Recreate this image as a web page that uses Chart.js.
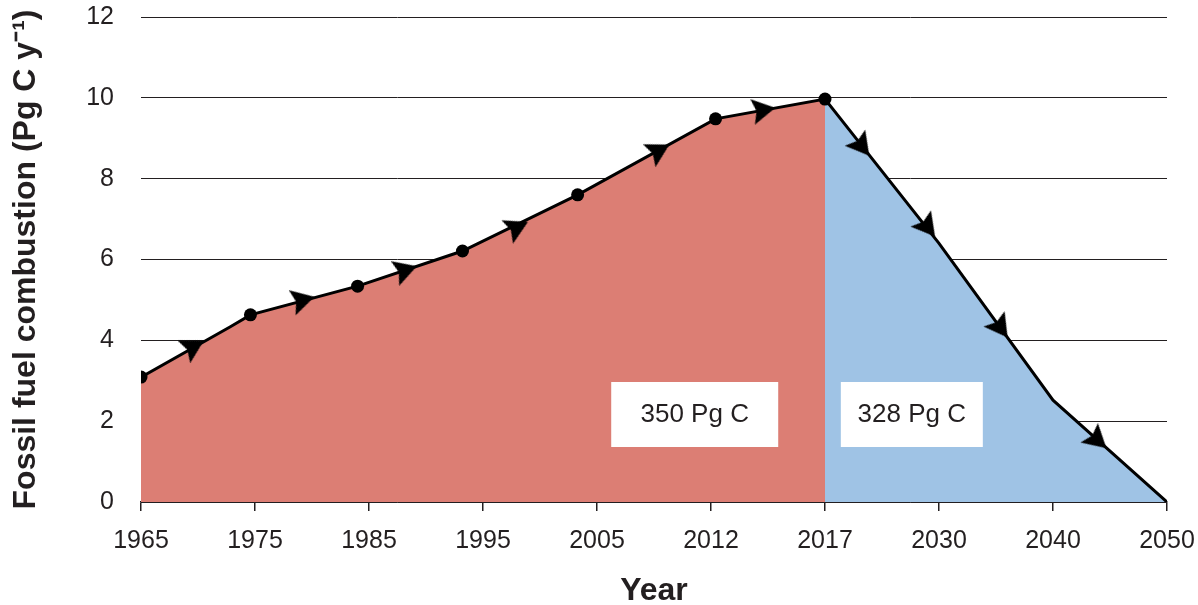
<!DOCTYPE html>
<html>
<head>
<meta charset="utf-8">
<script src="https://cdn.jsdelivr.net/npm/chart.js@4/dist/chart.umd.min.js"></script>
<style>
  body { margin: 0; background: #fff; }
  #wrap { width: 1198px; height: 605px; }
</style>
</head>
<body>
<div id="wrap"><canvas id="fuelChart"></canvas></div>
<script>
// tick labels on the x axis (equally spaced, not linear in time)
const tickYears = [1965, 1975, 1985, 1995, 2005, 2012, 2017, 2030, 2040, 2050];

// the emission path (Pg C per year)
const lineYears  = [1965, 1972.8, 1974.6, 1984, 1993.2, 2003.3, 2012.2, 2017, 2030, 2040, 2050];
const lineValues = [3.09, 4.33,   4.63,   5.34, 6.21,   7.60,   9.48,   9.97, 6.4,  2.52, 0];

// observed points that carry a dot
const dotYears = [1965, 1974.6, 1984, 1993.2, 2003.3, 2012.2, 2017];

// direction arrows along the path
const arrowYears  = [1969.6, 1979.2, 1988.2, 1998, 2008.8, 2014.3, 2021.2, 2028.7, 2035.4, 2043.9];
const arrowValues = [3.85,   5.0,    5.74,   6.8,  8.7,    9.7,    8.8,    6.8,    4.31,   1.53];

const splitYear = 2017;
const boxTexts  = ["350 Pg C", "328 Pg C"];
const boxYears  = [2011, 2026.9];
const boxValues = [2.165, 2.165];

const textColor = "#231f20";
const family = "'Liberation Sans', Arial, sans-serif";

// year -> position on the evenly spaced axis
function pos(year) {
  for (let i = 0; i < tickYears.length - 1; i++) {
    const a = tickYears[i], b = tickYears[i + 1];
    if (year <= b) return i + (year - a) / (b - a);
  }
  return tickYears.length - 1;
}

const pathPoints = lineYears.map((yr, i) => ({ x: pos(yr), y: lineValues[i] }));
const pastPoints = lineYears.map((yr, i) => ({ yr, p: pathPoints[i] })).filter(d => d.yr <= splitYear).map(d => d.p);
const futurePoints = lineYears.map((yr, i) => ({ yr, p: pathPoints[i] })).filter(d => d.yr >= splitYear).map(d => d.p);
const arrowPoints = arrowYears.map((yr, i) => ({ x: pos(yr), y: arrowValues[i] }));

// dart shaped arrow head, pointing right
const dart = document.createElement("canvas");
dart.width = 30; dart.height = 30;
(function () {
  const c = dart.getContext("2d");
  c.fillStyle = "#000";
  c.beginPath();
  c.moveTo(27, 15);
  c.lineTo(4, 2);
  c.lineTo(8, 15);
  c.lineTo(4, 28);
  c.closePath();
  c.fill();
})();

function arrowRotation(ctx) {
  const chart = ctx.chart;
  const xs = chart.scales.x, ys = chart.scales.y;
  const yr = arrowYears[ctx.dataIndex];
  let k = 0;
  while (k < lineYears.length - 2 && lineYears[k + 1] < yr) k++;
  const dx = xs.getPixelForValue(pathPoints[k + 1].x) - xs.getPixelForValue(pathPoints[k].x);
  const dy = ys.getPixelForValue(pathPoints[k + 1].y) - ys.getPixelForValue(pathPoints[k].y);
  return Math.atan2(dy, dx) * 180 / Math.PI;
}

const boxPlugin = {
  id: "boxes",
  afterDatasetsDraw(chart) {
    const { ctx, scales } = chart;
    const sizes = [[167, 65], [142, 65]];
    ctx.save();
    ctx.font = "26px " + family;
    ctx.textAlign = "center";
    ctx.textBaseline = "middle";
    boxTexts.forEach((t, i) => {
      const cx = scales.x.getPixelForValue(pos(boxYears[i]));
      const cy = scales.y.getPixelForValue(boxValues[i]);
      const [w, h] = sizes[i];
      ctx.fillStyle = "#fff";
      ctx.fillRect(cx - w / 2, cy - h / 2, w, h);
      ctx.fillStyle = textColor;
      ctx.fillText(t, cx, cy);
    });
    ctx.restore();
  }
};

new Chart(document.getElementById("fuelChart"), {
  type: "line",
  data: {
    datasets: [
      {
        data: pastPoints,
        backgroundColor: "#dc7e74",
        borderWidth: 0,
        pointRadius: 0,
        fill: "origin",
        order: 3
      },
      {
        data: futurePoints,
        backgroundColor: "#9fc3e5",
        borderWidth: 0,
        pointRadius: 0,
        fill: "origin",
        order: 3
      },
      {
        data: pathPoints,
        borderColor: "#000",
        borderWidth: 3,
        fill: false,
        tension: 0,
        pointRadius: ctx => dotYears.includes(lineYears[ctx.dataIndex]) ? 6.5 : 0,
        pointBackgroundColor: "#000",
        pointBorderWidth: 0,
        order: 2
      },
      {
        data: arrowPoints,
        showLine: false,
        pointStyle: dart,
        rotation: arrowRotation,
        order: 1
      }
    ]
  },
  options: {
    responsive: true,
    maintainAspectRatio: false,
    animation: false,
    layout: { padding: { top: 17, right: 31, left: 0, bottom: 0 } },
    plugins: {
      legend: { display: false },
      tooltip: { enabled: false }
    },
    scales: {
      x: {
        type: "linear",
        min: 0,
        max: tickYears.length - 1,
        afterFit: s => { s.height = 103; s.paddingLeft = 0; s.paddingRight = 0; },
        ticks: {
          stepSize: 1,
          autoSkip: false,
          maxRotation: 0,
          padding: 15,
          color: textColor,
          font: { family, size: 25 },
          callback: v => tickYears[v]
        },
        grid: { drawOnChartArea: false, drawTicks: true, tickLength: 9, color: textColor, lineWidth: 1.5 },
        border: { display: true, color: textColor, width: 1.5 },
        title: {
          display: true,
          text: "Year",
          color: textColor,
          font: { family, size: 32, weight: "bold", lineHeight: 0.8 },
          padding: { top: 0, bottom: 1 }
        }
      },
      y: {
        min: 0,
        max: 12,
        afterFit: s => { s.width = 141; s.paddingTop = 0; s.paddingBottom = 0; },
        ticks: {
          stepSize: 2,
          padding: 27,
          color: textColor,
          font: { family, size: 25 }
        },
        grid: { color: textColor, lineWidth: 1, drawTicks: false },
        border: { display: false },
        title: {
          display: true,
          text: "Fossil fuel combustion (Pg C y\u207B\u00B9)",
          color: textColor,
          font: { family, size: 32, weight: "bold", lineHeight: 1.2 },
          padding: { top: 7, bottom: 0 }
        }
      }
    }
  },
  plugins: [boxPlugin]
});
</script>
</body>
</html>
